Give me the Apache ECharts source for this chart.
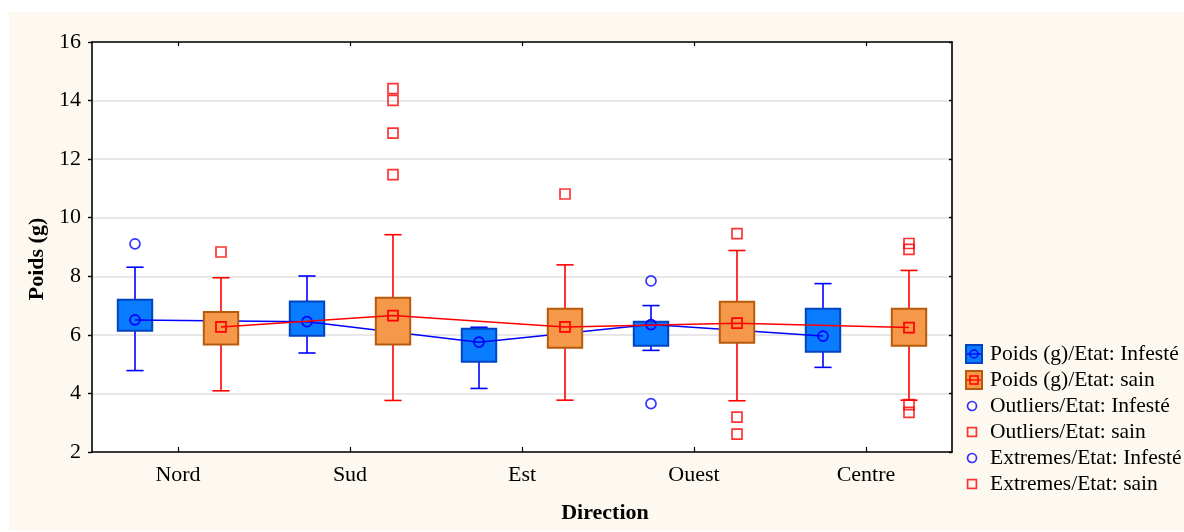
<!DOCTYPE html>
<html>
<head>
<meta charset="utf-8">
<script src="https://cdn.jsdelivr.net/npm/echarts@6/dist/echarts.min.js"></script>
<style>
  html, body { margin: 0; padding: 0; background: #ffffff; }
  #paper { position: absolute; left: 9px; top: 12px; width: 1175px; height: 519px; background: #fdf9f0; }
  #chart { position: absolute; left: 0; top: 0; width: 1184px; height: 532px; }
</style>
</head>
<body>
<div id="paper"></div>
<div id="chart"></div>
<script>
// Weight (g) by direction, split by state (infested / healthy)
const directions = ['Nord', 'Sud', 'Est', 'Ouest', 'Centre'];
const yTicks = [2, 4, 6, 8, 10, 12, 14, 16];

// Infested: whisker low, Q1, median, Q3, whisker high
const infesteLow    = [4.78, 5.38, 4.17, 5.47, 4.89];
const infesteQ1     = [6.14, 5.97, 5.08, 5.63, 5.42];
const infesteMedian = [6.51, 6.45, 5.75, 6.35, 5.96];
const infesteQ3     = [7.20, 7.14, 6.21, 6.45, 6.89];
const infesteHigh   = [8.31, 8.01, 6.26, 7.00, 7.75];

// Healthy: whisker low, Q1, median, Q3, whisker high
const sainLow    = [4.09, 3.76, 3.77, 3.75, 3.77];
const sainQ1     = [5.67, 5.67, 5.56, 5.73, 5.63];
const sainMedian = [6.27, 6.66, 6.27, 6.40, 6.25];
const sainQ3     = [6.78, 7.27, 6.89, 7.13, 6.89];
const sainHigh   = [7.95, 9.42, 8.39, 8.88, 8.20];

// Single points as [direction index, weight]
const outliersInfeste = [[0, 9.11], [3, 7.84], [3, 3.65]];
const outliersSain = [[0, 8.83], [1, 11.47], [2, 10.81], [3, 9.46], [3, 3.19], [3, 2.61],
                      [4, 9.12], [4, 8.92], [4, 3.62], [4, 3.35]];
const extremesInfeste = [];
const extremesSain = [[1, 12.89], [1, 14.01], [1, 14.41]];

const NAME_INF = 'Poids (g)/Etat: Infesté';
const NAME_SAIN = 'Poids (g)/Etat: sain';
const FONT = 'Liberation Serif, Times New Roman, serif';

const BLUE = '#0000ff', RED = '#ff0000';
const BOX_INF_FILL = '#0a7cff', BOX_INF_EDGE = '#0044c4';
const BOX_SAIN_FILL = '#f5984a', BOX_SAIN_EDGE = '#b65a0c';

// group offset within each direction band (in category units)
const SHIFT = 0.25;

function boxRows(low, q1, med, q3, high, shift) {
  return directions.map((d, i) => [i + shift, low[i], q1[i], med[i], q3[i], high[i]]);
}
function medianRows(med, shift) {
  return directions.map((d, i) => [i + shift, med[i]]);
}
function pointRows(pts, shift) {
  return pts.map(p => [p[0] + shift, p[1]]);
}

function boxRenderer(stroke, fill, edge) {
  return function (params, api) {
    const x = api.value(0);
    const lo = api.coord([x, api.value(1)]);
    const q1 = api.coord([x, api.value(2)]);
    const q3 = api.coord([x, api.value(4)]);
    const hi = api.coord([x, api.value(5)]);
    const band = api.size([1, 0])[0];
    const bw = band * 0.2, cw = band * 0.1;
    const cx = lo[0];
    const ls = { stroke: stroke, lineWidth: 1.6 };
    return {
      type: 'group',
      children: [
        { type: 'line', shape: { x1: cx, y1: hi[1], x2: cx, y2: q3[1] }, style: ls },
        { type: 'line', shape: { x1: cx, y1: q1[1], x2: cx, y2: lo[1] }, style: ls },
        { type: 'line', shape: { x1: cx - cw / 2, y1: hi[1], x2: cx + cw / 2, y2: hi[1] }, style: ls },
        { type: 'line', shape: { x1: cx - cw / 2, y1: lo[1], x2: cx + cw / 2, y2: lo[1] }, style: ls },
        { type: 'rect', shape: { x: cx - bw / 2, y: q3[1], width: bw, height: q1[1] - q3[1] },
          style: { fill: fill, stroke: edge, lineWidth: 2 } }
      ]
    };
  };
}

function svgIcon(body) {
  const svg = '<svg xmlns="http://www.w3.org/2000/svg" width="20" height="20" viewBox="0 0 20 20">' + body + '</svg>';
  return 'image://data:image/svg+xml;charset=utf-8,' + encodeURIComponent(svg);
}
const iconBoxInf = svgIcon(
  '<rect x="1" y="1" width="16" height="18" fill="' + BOX_INF_FILL + '" stroke="' + BOX_INF_EDGE + '" stroke-width="2"/>' +
  '<line x1="2" y1="10" x2="16" y2="10" stroke="' + BLUE + '" stroke-width="1.3"/>' +
  '<circle cx="9" cy="10" r="4" fill="none" stroke="' + BLUE + '" stroke-width="1.5"/>');
const iconBoxSain = svgIcon(
  '<rect x="1" y="1" width="16" height="18" fill="' + BOX_SAIN_FILL + '" stroke="' + BOX_SAIN_EDGE + '" stroke-width="2"/>' +
  '<line x1="2" y1="10" x2="16" y2="10" stroke="' + RED + '" stroke-width="1.3"/>' +
  '<rect x="5" y="6" width="8" height="8" fill="none" stroke="' + RED + '" stroke-width="1.5"/>');
const iconCircle = svgIcon('<circle cx="7" cy="10" r="4.5" fill="none" stroke="' + BLUE + '" stroke-width="1.7"/>');
const iconSquare = svgIcon('<rect x="2.6" y="5.6" width="8.8" height="8.8" fill="none" stroke="' + RED + '" stroke-width="1.7"/>');

const chart = echarts.init(document.getElementById('chart'), null, { renderer: 'canvas' });

const axisLineBlack = { show: true, onZero: false, lineStyle: { color: '#000', width: 1.6 } };

chart.setOption({
  animation: false,
  backgroundColor: 'transparent',
  grid: { left: 92, right: 232, top: 42, bottom: 80, show: true, backgroundColor: '#ffffff', borderWidth: 0 },
  legend: {
    orient: 'vertical',
    left: 965,
    top: 343,
    padding: 0,
    itemWidth: 20,
    itemHeight: 20,
    itemGap: 4,
    textStyle: { fontFamily: FONT, fontSize: 21.5, color: '#000', lineHeight: 20 },
    data: [
      { name: NAME_INF, icon: iconBoxInf },
      { name: NAME_SAIN, icon: iconBoxSain },
      { name: 'Outliers/Etat: Infesté', icon: iconCircle },
      { name: 'Outliers/Etat: sain', icon: iconSquare },
      { name: 'Extremes/Etat: Infesté', icon: iconCircle },
      { name: 'Extremes/Etat: sain', icon: iconSquare }
    ]
  },
  graphic: [
    { type: 'text', x: 37, y: 259, rotation: Math.PI / 2,
      style: { text: 'Poids (g)', font: 'bold 22px ' + FONT, fill: '#000', textAlign: 'center', textVerticalAlign: 'middle' } },
    { type: 'text', x: 605, y: 513,
      style: { text: 'Direction', font: 'bold 22px ' + FONT, fill: '#000', textAlign: 'center', textVerticalAlign: 'middle' } }
  ],
  xAxis: [
    {
      type: 'category', position: 'bottom', data: directions, boundaryGap: true,
      axisLine: axisLineBlack,
      axisTick: { show: true, alignWithLabel: true, inside: true, length: 5, lineStyle: { color: '#000', width: 1.2 } },
      axisLabel: { fontFamily: FONT, fontSize: 22, color: '#000', margin: 12 },
      splitLine: { show: false }
    },
    {
      type: 'category', position: 'top', data: directions, boundaryGap: true,
      axisLine: axisLineBlack,
      axisTick: { show: true, alignWithLabel: true, inside: true, length: 4, lineStyle: { color: '#000', width: 1.2 } },
      axisLabel: { show: false },
      splitLine: { show: false }
    },
    { type: 'value', min: -0.5, max: 4.5, show: false, axisLine: { onZero: false } }
  ],
  yAxis: [
    {
      type: 'value', position: 'left', min: 2, max: 16, interval: 2,
      axisLine: axisLineBlack,
      axisTick: { show: true, inside: false, length: 4, lineStyle: { color: '#000', width: 1.4 } },
      axisLabel: { fontFamily: FONT, fontSize: 22, color: '#000', margin: 11,
                   formatter: v => (yTicks.indexOf(v) >= 0 ? String(v) : '') },
      splitLine: { show: true, lineStyle: { color: '#e0e0e0', width: 1.6 } }
    },
    {
      type: 'value', position: 'right', min: 2, max: 16, interval: 2,
      axisLine: axisLineBlack,
      axisTick: { show: true, inside: true, length: 3, lineStyle: { color: '#000', width: 1.4 } },
      axisLabel: { show: false },
      splitLine: { show: false }
    }
  ],
  series: [
    {
      name: NAME_INF, type: 'custom', xAxisIndex: 2, yAxisIndex: 0, z: 2,
      renderItem: boxRenderer(BLUE, BOX_INF_FILL, BOX_INF_EDGE),
      encode: { x: 0, y: [1, 2, 3, 4, 5] },
      data: boxRows(infesteLow, infesteQ1, infesteMedian, infesteQ3, infesteHigh, -SHIFT)
    },
    {
      name: NAME_INF, type: 'line', xAxisIndex: 2, yAxisIndex: 0, z: 3,
      data: medianRows(infesteMedian, -SHIFT),
      symbol: 'circle', symbolSize: 10, showAllSymbol: true,
      lineStyle: { color: BLUE, width: 1.5 },
      itemStyle: { color: 'transparent', borderColor: BLUE, borderWidth: 1.7 }
    },
    {
      name: NAME_SAIN, type: 'custom', xAxisIndex: 2, yAxisIndex: 0, z: 4,
      renderItem: boxRenderer(RED, BOX_SAIN_FILL, BOX_SAIN_EDGE),
      encode: { x: 0, y: [1, 2, 3, 4, 5] },
      data: boxRows(sainLow, sainQ1, sainMedian, sainQ3, sainHigh, SHIFT)
    },
    {
      name: NAME_SAIN, type: 'line', xAxisIndex: 2, yAxisIndex: 0, z: 5,
      data: medianRows(sainMedian, SHIFT),
      symbol: 'rect', symbolSize: 10, showAllSymbol: true,
      lineStyle: { color: RED, width: 1.5 },
      itemStyle: { color: 'transparent', borderColor: RED, borderWidth: 1.7 }
    },
    {
      name: 'Outliers/Etat: Infesté', type: 'scatter', xAxisIndex: 2, yAxisIndex: 0, z: 6,
      symbol: 'circle', symbolSize: 10,
      itemStyle: { color: 'transparent', borderColor: BLUE, borderWidth: 1.7 },
      data: pointRows(outliersInfeste, -SHIFT)
    },
    {
      name: 'Outliers/Etat: sain', type: 'scatter', xAxisIndex: 2, yAxisIndex: 0, z: 6,
      symbol: 'rect', symbolSize: 10,
      itemStyle: { color: 'transparent', borderColor: RED, borderWidth: 1.7 },
      data: pointRows(outliersSain, SHIFT)
    },
    {
      name: 'Extremes/Etat: Infesté', type: 'scatter', xAxisIndex: 2, yAxisIndex: 0, z: 6,
      symbol: 'circle', symbolSize: 10,
      itemStyle: { color: 'transparent', borderColor: BLUE, borderWidth: 1.7 },
      data: pointRows(extremesInfeste, -SHIFT)
    },
    {
      name: 'Extremes/Etat: sain', type: 'scatter', xAxisIndex: 2, yAxisIndex: 0, z: 6,
      symbol: 'rect', symbolSize: 10,
      itemStyle: { color: 'transparent', borderColor: RED, borderWidth: 1.7 },
      data: pointRows(extremesSain, SHIFT)
    }
  ]
});
</script>
</body>
</html>
